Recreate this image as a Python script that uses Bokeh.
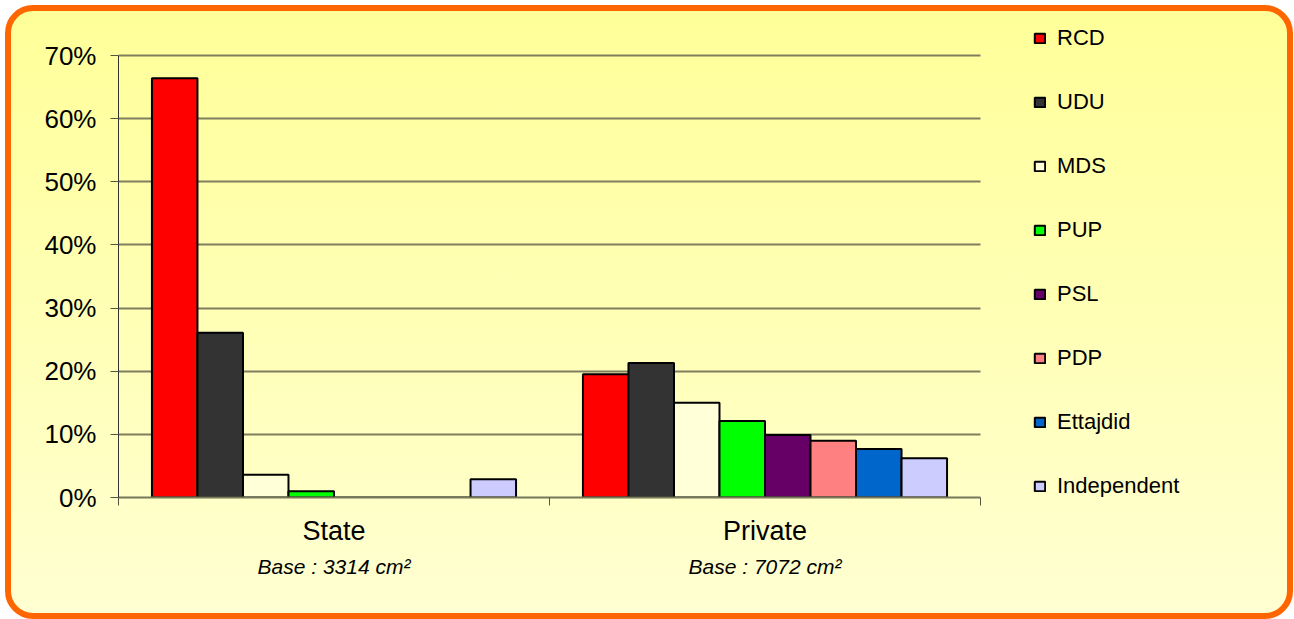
from bokeh.plotting import figure
from bokeh.models import (ColumnDataSource, Range1d, FixedTicker, LinearAxis, Legend,
                          LegendItem, PrintfTickFormatter)
from bokeh.transform import dodge
from bokeh.embed import file_html
from bokeh.resources import INLINE

# ---- data ----
categories = ["State", "Private"]
bases = ["Base : 3314 cm²", "Base : 7072 cm²"]
parties = ["RCD", "UDU", "MDS", "PUP", "PSL", "PDP", "Ettajdid", "Independent"]
state_values = [66.4, 26.1, 3.6, 1.0, 0.0, 0.0, 0.0, 2.9]
private_values = [19.5, 21.3, 15.0, 12.1, 9.9, 9.0, 7.7, 6.2]
party_colors = ["#FF0000", "#333333", "#FFFFD8", "#00FF00", "#660066", "#FF8080", "#0066CC", "#CCCCFF"]
y_ticks = [0, 10, 20, 30, 40, 50, 60, 70]

FONT = "Liberation Sans"
n_cat = len(categories)
centers = [i + 0.5 for i in range(n_cat)]
bar_w = 0.1056

# ---- layout (pixels) ----
W, H = 1288, 614            # element size (border included)
LEFT, BOTTOM = 107, 128     # space for axes
CAT_PX = 431                # pixels per category
Y_PX = 442                  # pixels for the 0..70 span
frame_w = W - LEFT
frame_h = H - BOTTOM
x_end = frame_w / CAT_PX
y_end = max(y_ticks) * frame_h / Y_PX

p = figure(width=W, height=H, x_range=Range1d(0, x_end), y_range=Range1d(0, y_end),
           output_backend="svg", toolbar_location=None,
           min_border_left=LEFT, min_border_right=0, min_border_top=0, min_border_bottom=BOTTOM)

p.background_fill_alpha = 0
p.border_fill_alpha = 0
p.outline_line_color = None
p.styles = {
    "margin": "5px 0 0 5px",
    "border": "6px solid #FF6600",
    "border-radius": "28px",
    "background": "linear-gradient(to bottom, #FFFF99, #FFFFD2)",
}

renderers = []
for j, party in enumerate(parties):
    src = ColumnDataSource(dict(x=centers, top=[state_values[j], private_values[j]]))
    r = p.vbar(x=dodge("x", (j - (len(parties) - 1) / 2) * bar_w, range=p.x_range),
               top="top", bottom=0, width=bar_w, source=src,
               fill_color=party_colors[j], line_color="black", line_width=2)
    renderers.append(r)

# y axis
yax = p.yaxis[0]
yax.ticker = FixedTicker(ticks=y_ticks)
yax.bounds = (0, max(y_ticks))
yax.formatter = PrintfTickFormatter(format="%d%%")
yax.major_label_text_font = FONT
yax.major_label_text_font_size = "26px"
yax.major_label_text_color = "black"
yax.major_tick_out = 8
yax.major_tick_in = 0
yax.minor_tick_line_color = None
yax.major_label_standoff = 14
yax.axis_line_color = "#333333"
yax.major_tick_line_color = "#555544"

# x axis (category names)
xax = p.xaxis[0]
xax.ticker = FixedTicker(ticks=centers, minor_ticks=list(range(n_cat + 1)))
xax.bounds = (0, n_cat)
xax.major_label_overrides = {c: lab for c, lab in zip(centers, categories)}
xax.major_tick_out = 0
xax.major_tick_in = 0
xax.major_tick_line_color = None
xax.minor_tick_out = 8
xax.minor_tick_in = 0
xax.minor_tick_line_color = "#555544"
xax.axis_line_color = "#77775A"
xax.axis_line_width = 2
xax.major_label_text_font = FONT
xax.major_label_text_font_size = "27px"
xax.major_label_text_color = "black"
xax.major_label_standoff = 10

# second x axis (base texts)
bax = LinearAxis(ticker=FixedTicker(ticks=centers), bounds=(0, n_cat),
                 major_label_overrides={c: lab for c, lab in zip(centers, bases)})
bax.axis_line_color = None
bax.major_tick_line_color = None
bax.minor_tick_line_color = None
bax.major_label_text_font = FONT
bax.major_label_text_font_style = "italic"
bax.major_label_text_font_size = "21px"
bax.major_label_text_color = "black"
bax.major_label_standoff = 0
p.add_layout(bax, "below")

p.xgrid.grid_line_color = None
p.ygrid.ticker = FixedTicker(ticks=y_ticks)
p.ygrid.cross_bounds = (0, n_cat)
p.ygrid.grid_line_color = "#7F7F5F"
p.ygrid.grid_line_width = 2

legend = Legend(items=[LegendItem(label=party, renderers=[r]) for party, r in zip(parties, renderers)],
                location=(915, -2))
legend.glyph_width = 13
legend.glyph_height = 12
legend.label_height = 22
legend.spacing = 38
legend.padding = 0
legend.margin = 0
legend.border_line_color = None
legend.background_fill_alpha = 0
legend.label_text_font = FONT
legend.label_text_font_size = "22px"
legend.label_text_color = "black"
legend.label_standoff = 11
p.add_layout(legend)

open("out.html", "w").write(file_html(p, INLINE))
